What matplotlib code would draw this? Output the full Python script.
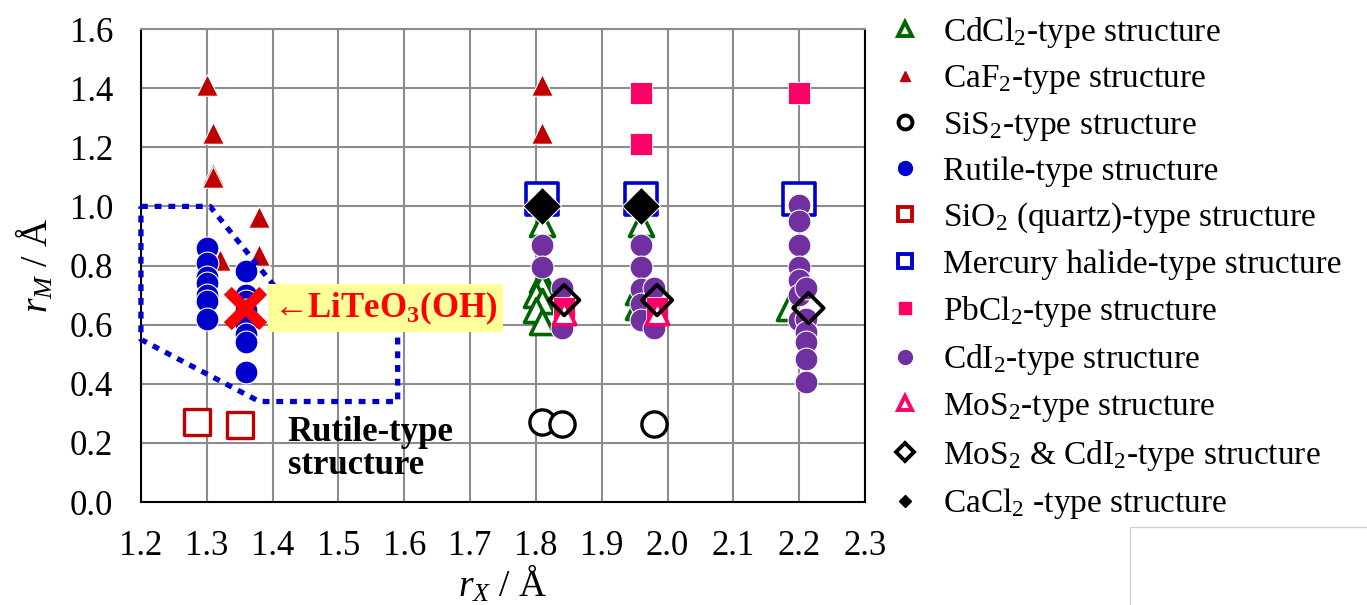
import matplotlib
matplotlib.use("Agg")
import matplotlib.pyplot as plt
from matplotlib.lines import Line2D
from matplotlib.patches import Rectangle

plt.rcParams['font.family'] = ['Liberation Serif', 'DejaVu Serif']
plt.rcParams['mathtext.fontset'] = 'custom'
plt.rcParams['mathtext.rm'] = 'Liberation Serif'
plt.rcParams['mathtext.it'] = 'Liberation Serif:italic'
plt.rcParams['mathtext.bf'] = 'Liberation Serif:bold'

# data (r_X, r_M in Angstrom)
cdcl2_x = [1.81, 1.81, 1.81, 1.80, 1.81, 1.80, 1.81, 1.96, 1.955, 1.955, 2.185]
cdcl2_y = [0.94, 0.75, 0.73, 0.70, 0.68, 0.65, 0.61, 0.94, 0.71, 0.66, 0.655]
caf2_x = [1.30, 1.31, 1.31, 1.31, 1.38, 1.38, 1.32, 1.81, 1.81]
caf2_y = [1.41, 1.25, 1.11, 1.10, 0.965, 0.835, 0.82, 1.41, 1.25]
sis2_x = [1.81, 1.84, 1.98]
sis2_y = [0.27, 0.265, 0.265]
rutile_x = [1.30] * 7 + [1.36] * 8
rutile_y = [0.86, 0.81, 0.76, 0.74, 0.70, 0.68, 0.62,
            0.78, 0.70, 0.68, 0.65, 0.60, 0.57, 0.54, 0.44]
sio2_x = [1.285, 1.35]
sio2_y = [0.27, 0.26]
hg_x = [1.81, 1.96, 2.20]
hg_y = [1.025, 1.025, 1.025]
pbcl2_x = [1.96, 1.96, 2.20, 1.843, 1.984]
pbcl2_y = [1.385, 1.21, 1.385, 0.655, 0.655]
cdi2_x = [1.81, 1.81, 1.84, 1.84, 1.96, 1.96, 1.96, 1.96, 1.96, 1.98, 1.98,
          2.20, 2.20, 2.20, 2.20, 2.20, 2.20, 2.20,
          2.21, 2.21, 2.21, 2.21, 2.21, 2.21]
cdi2_y = [0.87, 0.795, 0.725, 0.59, 0.87, 0.795, 0.72, 0.67, 0.615, 0.725, 0.59,
          1.005, 0.95, 0.87, 0.795, 0.75, 0.70, 0.615,
          0.725, 0.62, 0.575, 0.54, 0.485, 0.405]
mos2_x = [1.843, 1.984]
mos2_y = [0.64, 0.64]
mos2cdi2_x = [1.843, 1.984, 2.214]
mos2cdi2_y = [0.683, 0.683, 0.656]
cacl2_x = [1.81, 1.96]
cacl2_y = [1.0, 1.0]
litet_x = [1.358]
litet_y = [0.656]

# rutile-type region outline
region_x = [1.20, 1.305, 1.41, 1.59, 1.59, 1.38, 1.20, 1.20]
region_y = [1.00, 1.00, 0.71, 0.66, 0.34, 0.34, 0.55, 1.00]

GREEN = '#006400'
RED = '#C00000'
BLUE = '#0000CC'
PINK = '#FF0066'
PURPLE = '#7030A0'

fig = plt.figure(figsize=(13.67, 6.05), dpi=100)
ax = fig.add_axes([0.1031, 0.1702, 0.5297, 0.7818])

ax.scatter(sio2_x, sio2_y, marker='s', s=330, facecolor='white', edgecolor=RED, linewidth=2.4, zorder=3)
ax.scatter(sis2_x, sis2_y, marker='o', s=330, facecolor='white', edgecolor='black', linewidth=2.4, zorder=3)
ax.scatter(hg_x, hg_y, marker='s', s=540, facecolor='white', edgecolor=BLUE, linewidth=2.6, zorder=3)
ax.scatter(cdcl2_x, cdcl2_y, marker='^', s=300, facecolor='white', edgecolor=GREEN, linewidth=2.6, zorder=4)
ax.scatter(caf2_x, caf2_y, marker='^', s=240, facecolor=RED, edgecolor='white', linewidth=0.8, zorder=4)
ax.scatter(rutile_x, rutile_y, marker='o', s=270, facecolor=BLUE, edgecolor='white', linewidth=0.8, zorder=5)
ax.scatter(cdi2_x, cdi2_y, marker='o', s=270, facecolor=PURPLE, edgecolor='white', linewidth=0.8, zorder=5)
ax.scatter(pbcl2_x, pbcl2_y, marker='s', s=240, facecolor=PINK, edgecolor='white', linewidth=0.6, zorder=6)
ax.scatter(mos2_x, mos2_y, marker='^', s=260, facecolor='white', edgecolor=PINK, linewidth=2.6, zorder=6)
ax.scatter(mos2cdi2_x, mos2cdi2_y, marker='D', s=240, facecolor='none', edgecolor='black', linewidth=2.8, zorder=7)
ax.scatter(cacl2_x, cacl2_y, marker='D', s=380, facecolor='black', edgecolor='white', linewidth=0.8, zorder=7)

ax.plot(region_x, region_y, color=BLUE, linewidth=3.8, dashes=(1.3, 1.3),
        dash_capstyle='butt', clip_on=False, zorder=8)

ax.scatter(litet_x, litet_y, marker='x', s=650, color='#FF0000', linewidth=8, zorder=9)
ax.text(1.401, 0.656, '\u2190LiTeO$_\\mathbf{3}$(OH)', color='#FF0000', fontsize=25,
        fontweight='bold', ha='left', va='center', zorder=10,
        bbox=dict(boxstyle='square,pad=0.15', facecolor='#FFFF99', edgecolor='none'))
ax.text(1.423, 0.18, 'Rutile-type\nstructure', color='black', fontsize=25,
        fontweight='bold', ha='left', va='center', linespacing=1.0, zorder=10)

ax.set_xlim(1.2, 2.3)
ax.set_ylim(0.0, 1.6)
ax.set_xticks([1.2 + 0.1 * i for i in range(12)])
ax.set_xticklabels(['1.2', '1.3', '1.4', '1.5', '1.6', '1.7', '1.8', '1.9', '2.0', '2.1', '2.2', '2.3'])
ax.set_yticks([0.2 * i for i in range(9)])
ax.set_yticklabels(['0.0', '0.2', '0.4', '0.6', '0.8', '1.0', '1.2', '1.4', '1.6'])
ax.tick_params(length=0, labelsize=25, pad=20)
ax.grid(True, color='#8C8C8C', linewidth=1.5, zorder=0)
ax.set_axisbelow(True)
for side in ['left', 'bottom', 'right']:
    ax.spines[side].set_color('black')
    ax.spines[side].set_linewidth(1.5)
ax.spines['top'].set_color('#8C8C8C')
ax.spines['top'].set_linewidth(1.5)

ax.set_xlabel('$r_X$ / \u00c5', fontsize=27, labelpad=0)
ax.set_ylabel('$r_M$ / \u00c5', fontsize=27, labelpad=10)

handles = [
    Line2D([], [], ls='none', marker='^', ms=10, mfc='white', mec=GREEN, mew=2.8),
    Line2D([], [], ls='none', marker='^', ms=7, mfc=RED, mec=RED),
    Line2D([], [], ls='none', marker='o', ms=10, mfc='white', mec='black', mew=2.8),
    Line2D([], [], ls='none', marker='o', ms=10, mfc=BLUE, mec=BLUE),
    Line2D([], [], ls='none', marker='s', ms=10, mfc='white', mec=RED, mew=2.8),
    Line2D([], [], ls='none', marker='s', ms=10, mfc='white', mec=BLUE, mew=2.8),
    Line2D([], [], ls='none', marker='s', ms=8, mfc=PINK, mec=PINK),
    Line2D([], [], ls='none', marker='o', ms=10, mfc=PURPLE, mec=PURPLE),
    Line2D([], [], ls='none', marker='^', ms=10, mfc='white', mec=PINK, mew=2.8),
    Line2D([], [], ls='none', marker='D', ms=9, mfc='white', mec='black', mew=2.8),
    Line2D([], [], ls='none', marker='D', ms=6, mfc='black', mec='black'),
]
labels = [
    'CdCl$_2$-type structure',
    'CaF$_2$-type structure',
    'SiS$_2$-type structure',
    'Rutile-type structure',
    'SiO$_2$ (quartz)-type structure',
    'Mercury halide-type structure',
    'PbCl$_2$-type structure',
    'CdI$_2$-type structure',
    'MoS$_2$-type structure',
    'MoS$_2$ & CdI$_2$-type structure',
    'CaCl$_2$ -type structure',
]
fig.legend(handles, labels, loc='upper left', bbox_to_anchor=(0.6425, 0.998),
           frameon=False, fontsize=24, handlelength=0.8, handletextpad=0.75,
           labelspacing=0.41, borderaxespad=0)

fig.patches.append(Rectangle((0.8266, -0.01), 0.2, 0.139, transform=fig.transFigure,
                             facecolor='white', edgecolor='#D0D0D0', linewidth=1))

fig.savefig('out.png', dpi=100)
